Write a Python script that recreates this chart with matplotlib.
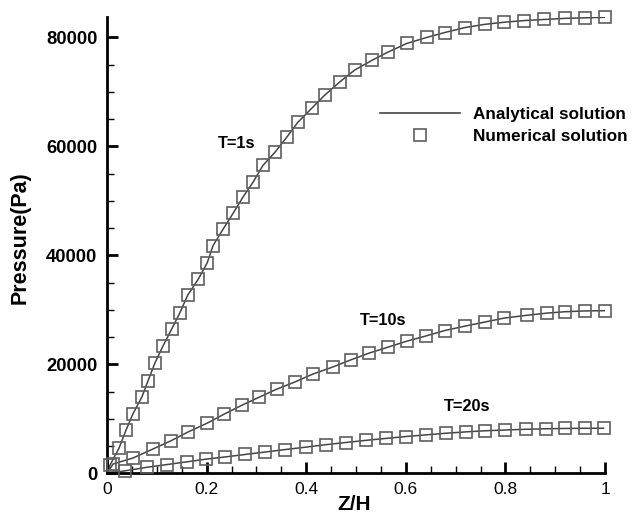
import numpy as np
import matplotlib
matplotlib.use("Agg")
import matplotlib.pyplot as plt
from matplotlib.lines import Line2D
from matplotlib.ticker import MultipleLocator, FuncFormatter

plt.rcParams['font.family'] = ['Liberation Sans', 'DejaVu Sans']

# pressure profiles along depth (Z/H) at three times
z_1s = [0.0, 0.006, 0.024, 0.038, 0.052, 0.070, 0.082, 0.096, 0.112, 0.130, 0.146,
        0.162, 0.183, 0.201, 0.213, 0.233, 0.253, 0.273, 0.293, 0.313, 0.337,
        0.361, 0.383, 0.411, 0.437, 0.467, 0.497, 0.532, 0.564, 0.602, 0.642,
        0.678, 0.718, 0.758, 0.798, 0.838, 0.878, 0.919, 0.959, 1.0]
p_1s = [0, 1500, 4600, 7900, 10900, 14000, 16900, 20200, 23300, 26500, 29400,
        32700, 35600, 38600, 41800, 44800, 47700, 50700, 53400, 56500, 58900,
        61700, 64400, 67000, 69400, 71800, 74000, 75800, 77300, 78900, 80000,
        80900, 81800, 82400, 82800, 83100, 83300, 83500, 83600, 83700]

z_10s = [0.0, 0.012, 0.052, 0.092, 0.128, 0.162, 0.201, 0.235, 0.271, 0.305,
         0.341, 0.377, 0.413, 0.453, 0.489, 0.526, 0.564, 0.602, 0.640, 0.678,
         0.718, 0.758, 0.798, 0.843, 0.883, 0.919, 0.959, 1.0]
p_10s = [0, 1700, 2800, 4450, 5950, 7550, 9200, 10850, 12500, 13950,
         15450, 16750, 18200, 19500, 20800, 22050, 23150, 24250, 25200, 26200,
         27000, 27750, 28500, 29000, 29400, 29650, 29800, 29850]

z_20s = [0.0, 0.036, 0.080, 0.120, 0.160, 0.199, 0.237, 0.277, 0.317, 0.357,
         0.399, 0.439, 0.479, 0.520, 0.560, 0.600, 0.640, 0.680, 0.720, 0.758,
         0.800, 0.841, 0.881, 0.919, 0.959, 0.997]
p_20s = [0, 450, 1100, 1600, 2100, 2600, 3000, 3450, 3900, 4350,
         4800, 5250, 5650, 6050, 6400, 6750, 7050, 7350, 7600, 7800,
         7950, 8080, 8170, 8230, 8260, 8270]

curve_labels = ['T=1s', 'T=10s', 'T=20s']
label_pos = [(0.261, 60600), (0.554, 28100), (0.724, 12200)]

line_col = '#444444'
mark_col = '#5e5e5e'

fig = plt.figure(figsize=(6.34, 5.13), dpi=100)
ax = fig.add_axes([0.1688, 0.0774, 0.7855, 0.8889])

for z, p in [(z_1s, p_1s), (z_10s, p_10s), (z_20s, p_20s)]:
    ax.plot(z, p, '-', color=line_col, lw=1.1, zorder=2)
    ax.plot(z[1:], p[1:], 's', mfc='none', mec=mark_col, ms=9.2, mew=1.2,
            clip_on=False, zorder=3)

for txt, (tx, ty) in zip(curve_labels, label_pos):
    ax.text(tx, ty, txt, ha='center', va='center', fontsize=11.8,
            fontweight='bold')

ax.set_xlim(0, 1)
ax.set_ylim(0, 83700)

for s in ['top', 'right']:
    ax.spines[s].set_visible(False)
for s in ['left', 'bottom']:
    ax.spines[s].set_linewidth(2.0)

ax.xaxis.set_major_locator(MultipleLocator(0.2))
ax.xaxis.set_minor_locator(MultipleLocator(0.05))
ax.yaxis.set_major_locator(MultipleLocator(20000))
ax.yaxis.set_minor_locator(MultipleLocator(5000))
ax.xaxis.set_major_formatter(FuncFormatter(lambda v, _: '%g' % round(v, 3)))
ax.yaxis.set_major_formatter(FuncFormatter(lambda v, _: '%d' % v))

ax.tick_params(which='major', direction='in', length=8, width=2)
ax.tick_params(which='minor', direction='in', length=5, width=1)
ax.tick_params(axis='y', which='major', pad=7, labelsize=13.2)
ax.tick_params(axis='x', which='major', pad=6, labelsize=12.5)
for lab in ax.get_yticklabels():
    lab.set_fontweight('bold')

ax.set_xlabel('Z/H', fontsize=15, fontweight='bold')
ax.set_ylabel('Pressure(Pa)', fontsize=15.5, fontweight='bold')
ax.xaxis.set_label_coords(0.497, -0.0695)
ax.yaxis.set_label_coords(-0.175, 0.516)
ax.xaxis.label.set_va('center')
ax.yaxis.label.set_va('center')

handles = [Line2D([], [], color=line_col, lw=1.2),
           Line2D([], [], ls='none', marker='s', mfc='none', mec=mark_col,
                  ms=9.2, mew=1.2)]
leg = fig.legend(handles, ['Analytical solution', 'Numerical solution'],
                 loc='upper left', bbox_to_anchor=(380 / 634, 1 - 106.5 / 513),
                 frameon=False, borderpad=0, borderaxespad=0,
                 handlelength=4.7, handletextpad=0.76, labelspacing=0.45,
                 prop={'size': 12.3, 'weight': 'bold'})

fig.savefig('out.png', dpi=100)
